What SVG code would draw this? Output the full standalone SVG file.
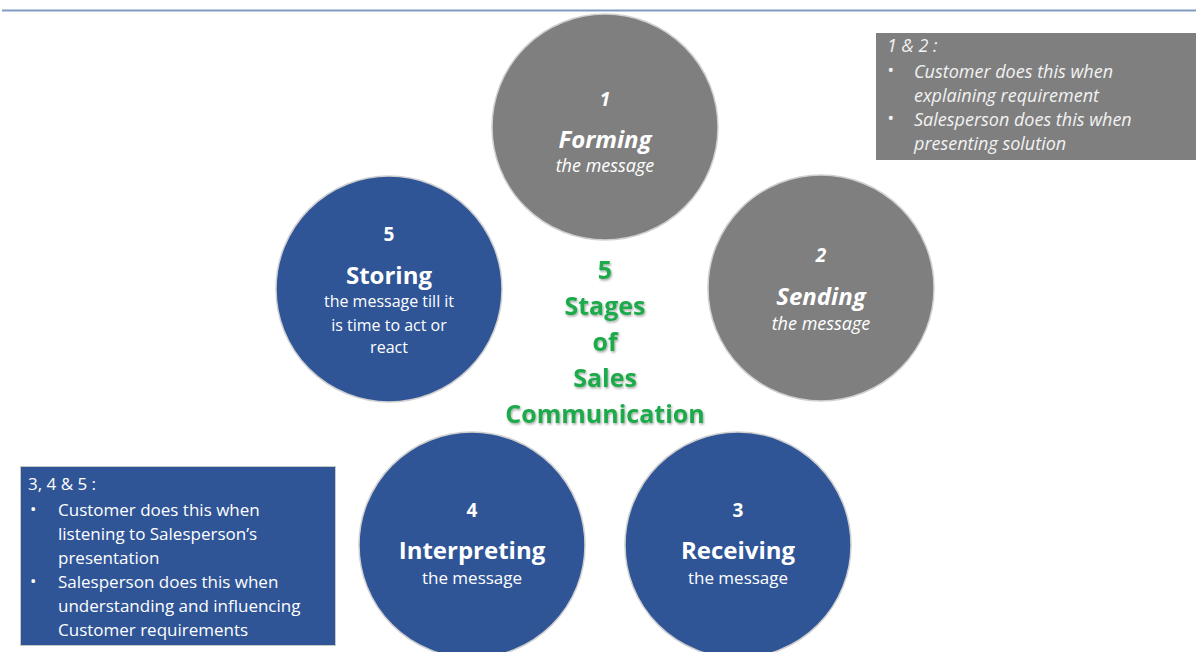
<svg xmlns="http://www.w3.org/2000/svg" width="1196" height="652" viewBox="0 0 1196 652">
<style>
.g{fill:#7f7f7f;stroke:#d0d0d0;stroke-width:1.5}
.b{fill:#2f5597;stroke:#d0d0d0;stroke-width:1.5}
text{font-family:"Open Sans","Liberation Sans",sans-serif;fill:#fff;text-anchor:middle}
.num{font-size:19px;font-weight:bold}
.ttl{font-size:24px;font-weight:bold}
.sub{font-size:16px}
.sub2{font-size:17px}
.subi{font-size:18px;font-style:italic}
.it{font-style:italic}
.ctr{font-size:25px;font-weight:bold;fill:#1faa4b}
.box{font-size:17px;text-anchor:start}
.boxi{font-size:18px;font-style:italic;text-anchor:start;fill:#f2f2f2}
</style>
<defs>
<filter id="sh" x="-10%" y="-10%" width="120%" height="130%">
<feDropShadow dx="1" dy="1.5" stdDeviation="0.8" flood-color="#000" flood-opacity="0.35"/>
</filter>
</defs>
<line x1="2" y1="10.5" x2="1196" y2="10.5" stroke="#7f9bbf" stroke-width="2"/>
<g id="connectors"/>
<g id="node1">
<circle class="g" cx="605" cy="127" r="113"/>
<text class="num it" x="605" y="106">1</text>
<text class="ttl it" x="605" y="148">Forming</text>
<text class="subi" x="605" y="172">the message</text>
</g>
<g id="node2">
<circle class="g" cx="821" cy="288" r="113"/>
<text class="num it" x="821" y="262">2</text>
<text class="ttl it" x="821" y="305">Sending</text>
<text class="subi" x="821" y="330">the message</text>
</g>
<g id="node5">
<circle class="b" cx="389" cy="289" r="113"/>
<text class="num" x="389" y="241">5</text>
<text class="ttl" x="389" y="284">Storing</text>
<text class="sub" x="389" y="307">the message till it</text>
<text class="sub" x="389" y="331">is time to act or</text>
<text class="sub" x="389" y="353">react</text>
</g>
<g id="node4">
<circle class="b" cx="472" cy="545" r="113"/>
<text class="num" x="472" y="517">4</text>
<text class="ttl" x="472" y="559">Interpreting</text>
<text class="sub2" x="472" y="584">the message</text>
</g>
<g id="node3">
<circle class="b" cx="738" cy="545" r="113"/>
<text class="num" x="738" y="517">3</text>
<text class="ttl" x="738" y="559">Receiving</text>
<text class="sub2" x="738" y="584">the message</text>
</g>
<g id="center" filter="url(#sh)">
<text class="ctr" x="605" y="279">5</text>
<text class="ctr" x="605" y="315">Stages</text>
<text class="ctr" x="605" y="351">of</text>
<text class="ctr" x="605" y="387">Sales</text>
<text class="ctr" x="605" y="423">Communication</text>
</g>
<g id="note12">
<rect x="876" y="33" width="320" height="127" fill="#7f7f7f"/>
<text class="boxi" x="887" y="52">1 &amp; 2 :</text>
<text class="boxi" x="887" y="77">•</text>
<text class="boxi" x="914" y="78">Customer does this when</text>
<text class="boxi" x="914" y="102">explaining requirement</text>
<text class="boxi" x="887" y="125">•</text>
<text class="boxi" x="914" y="126">Salesperson does this when</text>
<text class="boxi" x="914" y="150">presenting solution</text>
</g>
<g id="note345">
<rect x="20.5" y="466.5" width="315" height="179" fill="#2f5597" stroke="#c8c8c8" stroke-width="1"/>
<text class="box" x="28" y="490">3, 4 &amp; 5 :</text>
<text class="box" x="30" y="515">•</text>
<text class="box" x="58" y="516">Customer does this when</text>
<text class="box" x="58" y="540">listening to Salesperson’s</text>
<text class="box" x="58" y="564">presentation</text>
<text class="box" x="30" y="587">•</text>
<text class="box" x="58" y="588">Salesperson does this when</text>
<text class="box" x="58" y="612">understanding and influencing</text>
<text class="box" x="58" y="636">Customer requirements</text>
</g>
</svg>
